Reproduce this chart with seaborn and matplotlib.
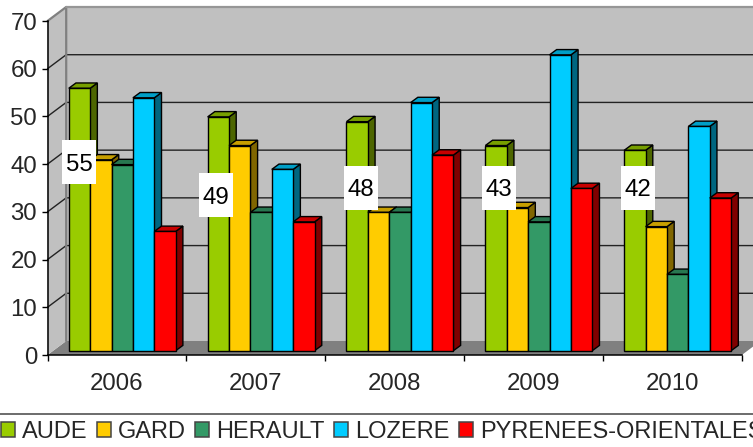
import matplotlib
matplotlib.use("Agg")
import matplotlib.colors
import matplotlib.pyplot as plt
from matplotlib.lines import Line2D
from matplotlib.patches import Rectangle
import pandas as pd
import seaborn as sns

years = ["2006", "2007", "2008", "2009", "2010"]
aude = [55, 49, 48, 43, 42]
gard = [40, 43, 29, 30, 26]
herault = [39, 29, 29, 27, 16]
lozere = [53, 38, 52, 62, 47]
pyrenees = [25, 27, 41, 34, 32]
departements = ["AUDE", "GARD", "HERAULT", "LOZERE", "PYRENEES-ORIENTALES"]
colors = ["#99CC00", "#FFCC00", "#339966", "#00CCFF", "#FF0000"]
yticks = [0, 10, 20, 30, 40, 50, 60, 70]

W, H = 753, 447
LEFT, RIGHT, BASE, TOP = 47.5, 741.8, 355, 21
PX_X = (RIGHT - LEFT) / len(years)
PX_Y = (BASE - TOP) / 70
FS = 17.3


def dx(px):
    return px / PX_X


def dy(px):
    return px / PX_Y


def shade(color, f):
    r, g, b = matplotlib.colors.to_rgb(color)
    return (r * f, g * f, b * f)


sns.set_style("white")
plt.rcParams["font.family"] = ["Liberation Sans", "DejaVu Sans"]

df = pd.DataFrame({
    "year": years * 5,
    "dep": [d for d in departements for _ in years],
    "value": aude + gard + herault + lozere + pyrenees,
})

fig = plt.figure(figsize=(W / 100, H / 100), dpi=100)
ax = fig.add_axes([LEFT / W, 1 - BASE / H, (RIGHT - LEFT) / W, (BASE - TOP) / H])

sns.barplot(data=df, x="year", y="value", hue="dep", hue_order=departements,
            palette=colors, saturation=1, width=0.77, dodge=True, ax=ax,
            edgecolor="black", linewidth=1.0, errorbar=None)

bars = sorted([p for p in ax.patches if p.get_height() > 0], key=lambda p: p.get_x())

x0, x1 = -0.5, len(years) - 0.5
ax.set_xlim(x0, x1)
ax.set_ylim(0, 70)
ax.set_xlabel("")
ax.set_ylabel("")

# walls and floor
wx, wy = dx(18.7), dy(14)
ax.fill([x0, x0 + wx, x1 + wx, x1], [0, wy, wy, 0], color="#808080", lw=0, zorder=0.1, clip_on=False)
ax.fill([x0, x0 + wx, x0 + wx, x0], [0, wy, 70 + wy, 70], color="#C0C0C0", lw=0, zorder=0.1, clip_on=False)
ax.fill([x0 + wx, x1 + wx, x1 + wx, x0 + wx], [wy, wy, 70 + wy, 70 + wy], color="#C0C0C0", lw=0, zorder=0.1, clip_on=False)
ax.plot([x0, x0 + wx, x0 + wx], [70, 70 + wy, wy], color="#808080", lw=1.6, zorder=0.3, clip_on=False)
ax.plot([x0 + wx, x1 + wx], [70 + wy, 70 + wy], color="#969696", lw=1.6, zorder=0.3, clip_on=False)
for t in yticks[1:-1]:
    ax.plot([x0, x0 + wx, x1 + wx], [t, t + wy, t + wy], color="#222222", lw=1.0, zorder=0.2, clip_on=False)

# shift bars onto the floor and give them depth
bx, by = dx(7.2), dy(5.3)
shift_x, shift_y = dx(5.3), dy(4.3)
for i, p in enumerate(bars):
    p.set_x(p.get_x() + shift_x)
    p.set_y(p.get_y() + shift_y)
    z = 1 + i * 0.01
    p.set_zorder(z + 0.002)
    p.set_clip_on(False)
    a, b = p.get_x(), p.get_x() + p.get_width()
    lo, hi = p.get_y(), p.get_y() + p.get_height()
    col = p.get_facecolor()[:3]
    ax.fill([b, b + bx, b + bx, b], [lo, lo + by, hi + by, hi], facecolor=shade(col, 0.5),
            edgecolor="black", lw=1.0, zorder=z, clip_on=False)
    ax.fill([a, a + bx, b + bx, b], [hi, hi + by, hi + by, hi], facecolor=shade(col, 0.78),
            edgecolor="black", lw=1.0, zorder=z + 0.001, clip_on=False)

# labels of the first series, placed by eye
label_y = [40.4, 33.5, 35, 35, 35]
label_dx = [0, -2, 3.5, 3, 3]
first = [p for p in bars if p.get_facecolor()[:3] == matplotlib.colors.to_rgb(colors[0])]
for p, v, ly, ox in zip(first, aude, label_y, label_dx):
    cx = p.get_x() + p.get_width() / 2 + dx(ox)
    ax.add_patch(Rectangle((cx - dx(17), ly - dy(22)), dx(34), dy(44), facecolor="white",
                           edgecolor="none", zorder=3, clip_on=False))
    ax.text(cx, ly, str(v), ha="center", va="center_baseline", fontsize=FS, color="black", zorder=4)

# axes
sns.despine(ax=ax, top=True, right=True)
for s in ["left", "bottom"]:
    ax.spines[s].set_color("black")
    ax.spines[s].set_linewidth(1.1)
    ax.spines[s].set_zorder(0.5)
ax.set_yticks(yticks)
ax.set_xticks(range(len(years)))
ax.set_xticklabels(years)
ax.set_xticks([x0 + i for i in range(len(years) + 1)], minor=True)
ax.tick_params(axis="y", left=True, length=4.5, width=1, color="black", labelsize=FS, pad=3)
ax.tick_params(axis="x", which="major", length=0, labelsize=FS, pad=13)
ax.tick_params(axis="x", which="minor", bottom=True, length=4.5, width=1, color="black")

# legend
sns.move_legend(ax, "center left", bbox_to_anchor=(0.001, 1 - 431.5 / H), bbox_transform=fig.transFigure,
                ncol=5, frameon=False, title=None, fontsize=17, handlelength=0.6, handleheight=0.6,
                handletextpad=0.3, columnspacing=0.385, borderpad=0, borderaxespad=0)
for h in ax.get_legend().legend_handles:
    h.set_edgecolor("#444444")
    h.set_linewidth(1.1)
fig.add_artist(Line2D([0, 1], [1 - 414 / H, 1 - 414 / H], color="#444444", lw=1.1))

fig.savefig("out.png", dpi=100)
